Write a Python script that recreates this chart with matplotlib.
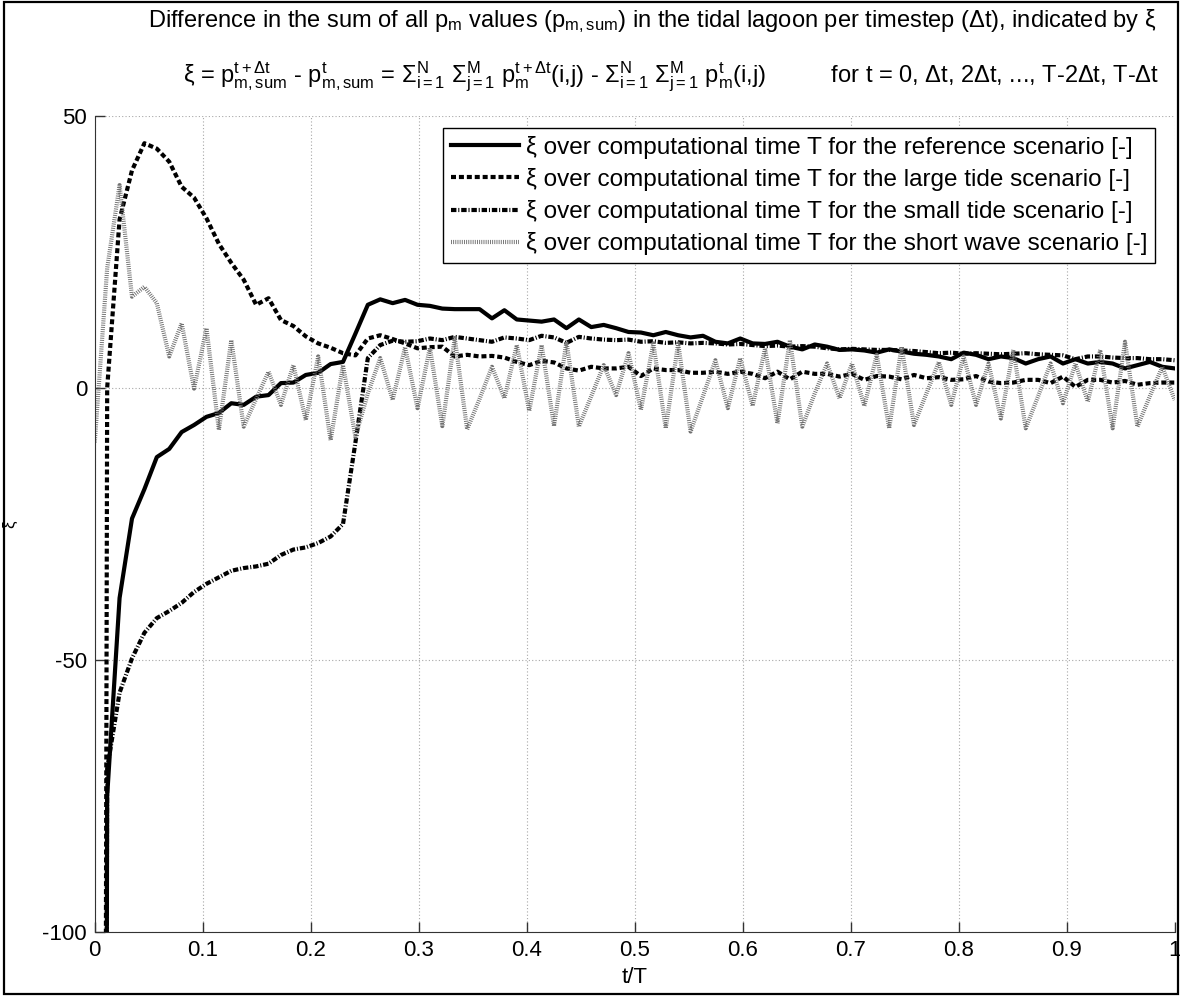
import matplotlib
matplotlib.use("Agg")
import matplotlib.pyplot as plt
import numpy as np
from matplotlib.patches import Rectangle

plt.rcParams['font.family'] = ['Liberation Sans', 'DejaVu Sans']
plt.rcParams['mathtext.fontset'] = 'custom'
plt.rcParams['mathtext.rm'] = 'Liberation Sans'
plt.rcParams['mathtext.it'] = 'Liberation Sans'
plt.rcParams['mathtext.default'] = 'regular'
plt.rcParams['axes.unicode_minus'] = False

# t/T sample points (88 timesteps)
t = np.arange(88) / 87

# xi per timestep (first value lies far below the axis)
reference = [-1000, -75, -38.6, -24, -18.6, -12.7, -11.2, -8.1, -6.8, -5.3,
             -4.6, -2.8, -3.1, -1.6, -1.3, 0.9, 1.0, 2.4, 2.8, 4.4,
             4.8, 10.0, 15.3, 16.3, 15.6, 16.2, 15.3, 15.1, 14.6, 14.5,
             14.5, 14.5, 12.8, 14.3, 12.6, 12.4, 12.2, 12.6, 11.0, 12.6,
             11.2, 11.6, 11.0, 10.3, 10.2, 9.7, 10.3, 9.7, 9.3, 9.6,
             8.5, 8.2, 9.1, 8.2, 8.1, 8.5, 7.6, 7.1, 8.0, 7.6,
             7.0, 7.1, 6.9, 6.5, 7.1, 6.7, 6.3, 6.1, 5.8, 5.3,
             6.5, 6.1, 5.3, 5.8, 5.5, 4.5, 5.3, 5.8, 4.5, 5.3,
             4.5, 4.8, 4.5, 3.6, 4.2, 4.8, 3.9, 3.6]
large_tide = [-1000, 0, 31, 40, 45, 44, 41.6, 37, 35, 31.2,
              26.5, 23, 19.9, 15.3, 16.5, 12.5, 11.4, 9.5, 8.2, 7.4,
              6.4, 6.0, 9.1, 9.7, 9.0, 8.2, 7.3, 7.5, 7.6, 5.8,
              6.1, 5.8, 5.9, 5.6, 4.8, 4.2, 5.0, 4.7, 3.6, 3.2,
              3.9, 3.6, 3.6, 3.9, 2.2, 3.6, 3.3, 3.3, 2.8, 2.8,
              3.0, 2.6, 3.0, 2.6, 1.8, 3.0, 1.6, 3.0, 2.6, 2.6,
              2.1, 2.6, 1.5, 2.2, 2.1, 1.6, 2.4, 1.8, 2.0, 1.5,
              1.6, 2.2, 1.2, 0.9, 1.0, 1.5, 1.5, 0.9, 2.1, 0.2,
              1.5, 1.5, 1.0, 1.3, 0.6, 0.9, 1.0, 1.0]
small_tide = [-1000, -70, -56, -49.7, -45, -42.3, -41, -39.5, -37.5, -36,
              -34.8, -33.6, -33.1, -32.8, -32.3, -30.7, -29.7, -29.3, -28.5, -27.3,
              -25, -10, 5.5, 7.9, 8.7, 8.5, 8.6, 9.1, 8.8, 9.4,
              9.1, 8.8, 8.5, 9.3, 9.1, 8.8, 9.6, 9.3, 8.3, 9.4,
              9.1, 8.9, 8.8, 8.9, 8.5, 8.6, 8.3, 8.4, 8.2, 8.3,
              8.2, 8.0, 8.1, 7.9, 7.7, 7.8, 7.6, 7.7, 7.6, 7.3,
              7.1, 7.2, 7.1, 7.0, 7.0, 6.9, 6.8, 6.6, 6.4, 6.5,
              6.3, 6.4, 6.3, 6.2, 6.3, 6.4, 6.2, 6.1, 6.0, 5.3,
              5.8, 5.8, 5.6, 5.5, 5.5, 5.3, 5.3, 5.1]
short_wave = [-10, 22, 37.3, 16.8, 18.6, 15.6, 5.8, 11.9, -0.1, 11.0,
              -7.7, 8.8, -7.1, -2, 3.0, -3.1, 4.2, -5.9, 5.8, -9.6,
              4.2, -9, -1, 5.5, -2.2, 7.5, -3.7, 7.4, -7.0, 9.2,
              -7.6, -2, 3.9, -1.9, 7.9, -4.2, 7.9, -7.0, 8.5, -7.1,
              -1.5, 4.2, -1.3, 6.4, -4.0, 8.2, -7.4, 8.2, -8.0, -1.5,
              5.1, -3.7, 5.5, -3.3, 7.3, -6.5, 8.8, -7.1, -1, 4.5,
              -1.9, 4.5, -3.3, 6.1, -7.4, 7.6, -6.8, -1, 4.8, -3.1,
              5.8, -3.1, 4.5, -5.6, 7.0, -7.4, -1.5, 4.5, -2.8, 4.5,
              -2.5, 7.0, -7.4, 8.5, -7.1, -1.5, 3.9, -2.2]

labels = ['ξ over computational time T for the reference scenario [-]',
          'ξ over computational time T for the large tide scenario [-]',
          'ξ over computational time T for the small tide scenario [-]',
          'ξ over computational time T for the short wave scenario [-]']

fig = plt.figure(figsize=(11.8, 9.96), dpi=100)
ax = fig.add_axes([0.0803, 0.0643, 0.9152, 0.8192])

ax.plot(t, reference, color='black', lw=3, solid_joinstyle='round', label=labels[0])
ax.plot(t, large_tide, color='black', lw=3, linestyle=(0, (1.2, 0.7)), label=labels[1])
ax.plot(t, small_tide, color='black', lw=3, linestyle=(0, (1.3, 0.45, 0.25, 0.45)), label=labels[2])
ax.plot(t, short_wave, color='#707070', lw=3, linestyle=(0, (0.22, 0.3)), label=labels[3])

ax.set_xlim(0, 1)
ax.set_ylim(-100, 50)
ax.set_xticks(np.arange(0, 1.01, 0.1))
ax.set_xticklabels(['0', '0.1', '0.2', '0.3', '0.4', '0.5', '0.6', '0.7', '0.8', '0.9', '1'])
ax.set_yticks([-100, -50, 0, 50])
ax.grid(True, color='#a8a8a8', linestyle=(0, (1, 2)), lw=0.8)
ax.tick_params(direction='in', length=7, width=1, colors='#333333', labelsize=16,
               labelcolor='black')
ax.tick_params(axis='x', pad=6)
ax.tick_params(axis='y', pad=5.5)
ax.spines['top'].set_visible(False)
ax.spines['right'].set_visible(False)
ax.spines['left'].set_color('#333333')
ax.spines['bottom'].set_color('#333333')

ax.set_xlabel('t/T', fontsize=16, labelpad=4)

leg = ax.legend(loc='upper right', bbox_to_anchor=(0.9817, 0.9853), fontsize=17.5,
                fancybox=False, framealpha=1, edgecolor='black', handlelength=2.8,
                handletextpad=0.3, labelspacing=0.38, borderpad=0.31, borderaxespad=0)
leg.get_frame().set_linewidth(1)

fig.text(0.0085, 0.474, 'ξ', rotation=90, fontsize=12, ha='center', va='center')

fig.text(0.553, 0.979,
         r'Difference in the sum of all $p_m$ values ($p_{m,sum}$) in the tidal lagoon per timestep ($\Delta$t), indicated by ξ',
         fontsize=17, ha='center', va='center')
fig.text(0.569, 0.923,
         r'ξ = $p^{t+\Delta t}_{m,sum}$ - $p^{t}_{m,sum}$ = $\Sigma^{N}_{i=1}$ $\Sigma^{M}_{j=1}$ $p^{t+\Delta t}_{m}$(i,j) - '
         r'$\Sigma^{N}_{i=1}$ $\Sigma^{M}_{j=1}$ $p^{t}_{m}$(i,j)          for t = 0, Δt, 2Δt, ..., T-2Δt, T-Δt',
         fontsize=17, ha='center', va='center')

fig.patches.append(Rectangle((0.003, 0.002), 0.9955, 0.996, transform=fig.transFigure,
                             fill=False, edgecolor='black', lw=1.6))

fig.savefig('out.png', dpi=100)
